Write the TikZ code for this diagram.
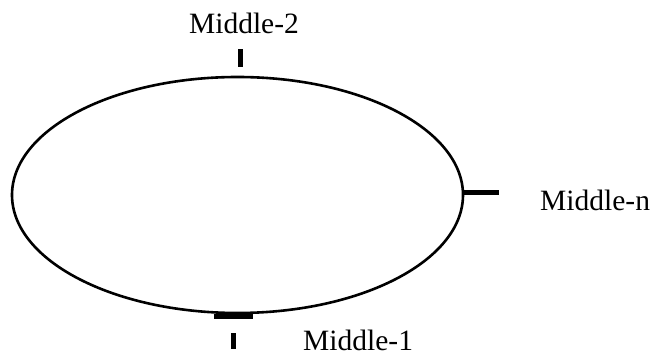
\documentclass[tikz,border=0pt]{standalone}
\usepackage{fontspec}
\setmainfont{Liberation Serif}
\usetikzlibrary{positioning,shapes.geometric}

\begin{document}
\begin{tikzpicture}[x=1pt, y=1pt, every node/.style={font=\fontsize{29.5}{33}\selectfont, inner sep=0pt},
  tick/.style={line width=5pt}]
  \useasboundingbox (0,0) rectangle (662,358);
  \node (ring) [draw, ellipse, line width=2.6pt, minimum width=451pt, minimum height=236pt] at (237.5,163) {};

  \node (mid2) at (244,335) {Middle-2};
  \node (midn) [anchor=west] at (540,158) {Middle-n};
  \node (mid1) [anchor=west] at (303,18) {Middle-1};

  \draw[tick] ([xshift=2.5pt, yshift=9pt]ring.north) -- ++(0,18);
  \draw[tick] ([yshift=2pt]ring.east) -- ++(35,0);
  \draw[tick] ([xshift=-24pt, yshift=-2pt]ring.south) -- ++(39,0);
  \draw[tick] ([xshift=-4.5pt, yshift=-19pt]ring.south) -- ++(0,-16);
\end{tikzpicture}
\end{document}
